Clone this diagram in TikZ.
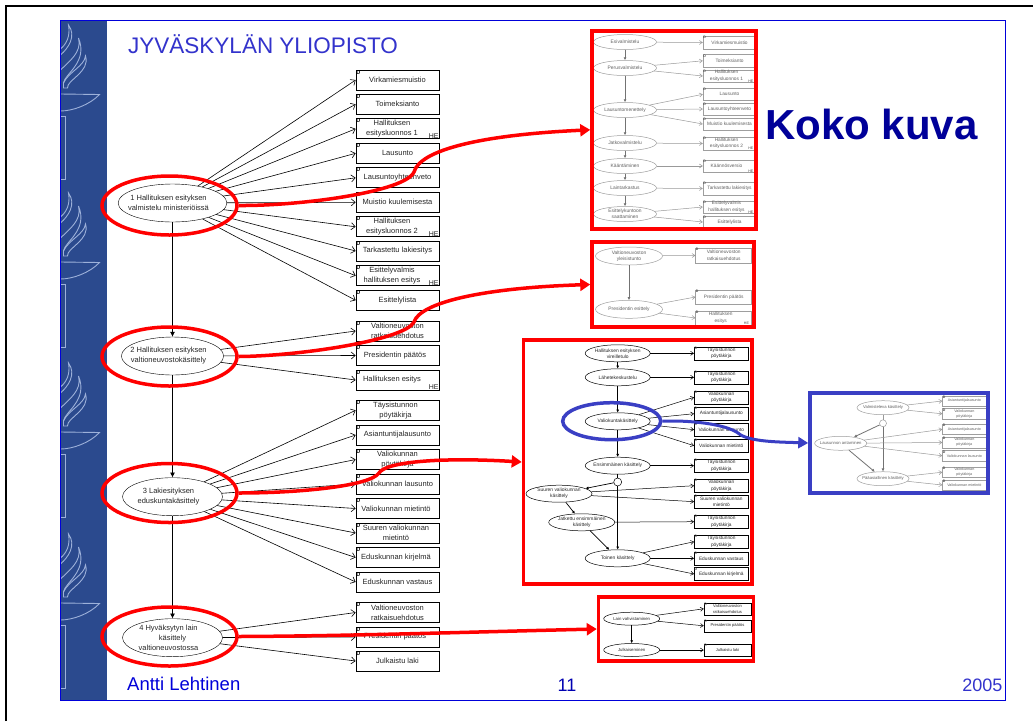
\documentclass[tikz,border=0pt]{standalone}
\usepackage{fontspec}
\setmainfont{Liberation Sans}
\usetikzlibrary{shapes.geometric, arrows.meta}
\definecolor{sidebar}{HTML}{2B4A8E}
\definecolor{emblem}{HTML}{9DB1DA}
\definecolor{titleblue}{HTML}{3333CC}
\definecolor{deepblue}{HTML}{000099}
\definecolor{ringblue}{HTML}{3A3FC4}
\newcommand{\hx}[1][11pt]{\hspace*{#1}}
\begin{document}
\begin{tikzpicture}[%
    x = 1pt, y = -1pt,
    >={Straight Barb[length=4pt, width=7pt]},
    case/.style = {ellipse, draw, fill = white, minimum width = 100pt, minimum height = 38pt, inner sep = -6pt, align = center, font = \fontsize{7.5}{10}\selectfont, text = black!85},
    docbase/.style = {rectangle, draw, fill = white, inner sep = 0pt, align = center, text = black!85},
    doc/.style = {docbase, minimum width = 83pt, minimum height = 20pt, font = \fontsize{7.5}{10}\selectfont, line width = 0.7pt, label = {[dmark]north west:D}},
    dmark/.style = {anchor = north west, inner sep = 0.5pt, font = \bfseries\fontsize{5.5}{6}\selectfont, text = black},
    hemark/.style = {anchor = south east, inner sep = 0.5pt, font = \fontsize{7}{7}\selectfont, text = black!85},
    tinyd/.style = {anchor = north west, inner sep = 0.3pt, font = \bfseries\fontsize{3.5}{4}\selectfont, text = black!70},
    tinyhemark/.style = {anchor = south east, inner sep = 0.3pt, xshift = -2.5pt, font = \fontsize{3.6}{4}\selectfont, text = black!70},
    he/.style = {label = {[hemark]south east:HE}},
    tinyhe/.style = {label = {[tinyhemark]south east:HE}},
    link/.style = {->, line width = 0.6pt},
    flow/.style = {-{Latex[length=5pt, width=5pt]}, line width = 0.7pt},
    tinycase/.style = {case, minimum width = #1, minimum height = 15pt, font = \fontsize{4.9}{6}\selectfont, line width = 0.5pt},
    tinydoc/.style = {docbase, minimum width = #1, minimum height = 12.5pt, font = \fontsize{4.8}{6.5}\selectfont, line width = 0.5pt, label = {[tinyd]north west:D}},
    faded/.style = {draw = black!38, text = black!62},
    fadelink/.style = {->, >={Straight Barb[length=3pt, width=4pt]}, line width = 0.5pt, draw = black!40},
    fadeflow/.style = {-{Latex[length=3pt, width=3pt]}, line width = 0.8pt, draw = black!55},
    tinylink/.style = {->, >={Straight Barb[length=3pt, width=4pt]}, line width = 0.5pt},
    tinyflow/.style = {-{Latex[length=3pt, width=3pt]}, line width = 0.7pt},
    redring/.style = {ellipse, draw = red, line width = 3.5pt, inner sep = 0pt},
    redframe/.style = {rectangle, draw = red, line width = 3.5pt, inner sep = 0pt},
    redarrow/.style = {-{Triangle[length=10pt, width=12pt]}, draw = red, line width = 3.5pt},
    bluearrow/.style = {-{Triangle[length=10pt, width=11pt]}, draw = ringblue, line width = 3pt},
    emblempic/.pic = {
        \draw[emblem, line width = 0.9pt] (0,0) -- (39,0.5) .. controls (29,11) and (12,17) .. (0,17);
        \draw[emblem, line width = 0.9pt] (0,22) -- (5,22) -- (5,85) -- (0,85);
        \draw[emblem, line width = 0.9pt] (0,-39) .. controls (8,-46) and (16,-58) .. (8,-69) .. controls (10,-58) and (6,-50) .. (0,-45);
        \draw[emblem, line width = 0.9pt] (3,-11) .. controls (4,-20) and (28,-32) .. (18,-56) .. controls (22,-42) and (8,-32) .. (0,-24);
        \draw[emblem, line width = 0.9pt] (3,-6) -- (7,-6) .. controls (6,-14) and (30,-22) .. (25,-38) .. controls (24,-28) and (8,-22) .. (3,-11) -- cycle;
    }]

    \useasboundingbox (0,0) rectangle (1033,721);
    \fill[white] (0,0) rectangle (1033,721);
    \draw[black, line width = 2pt] (6,721) -- (6,6) -- (1033,6);
    \fill[sidebar] (60.5,20.5) rectangle (107,700.5);
    \pic at (60.5,94) {emblempic};
    \pic at (60.5,262) {emblempic};
    \pic at (60.5,432) {emblempic};
    \pic at (60.5,603) {emblempic};
    \draw[blue!85!black, line width = 0.9pt] (60.5,20.5) rectangle (1005,700.5);

    \node[anchor = base west, inner sep = 0pt, text = titleblue, font = \fontsize{22.5}{24}\selectfont] (title) at (128,53) {JYVÄSKYLÄN YLIOPISTO};
    \node[anchor = base west, inner sep = 0pt, text = blue!85!black, font = \fontsize{18.5}{20}\selectfont] (author) at (127,690.5) {Antti Lehtinen};
    \node[anchor = base, inner sep = 0pt, text = blue!70!black, font = \fontsize{18}{20}\selectfont] (page) at (567,691) {11};
    \node[anchor = base east, inner sep = 0pt, text = titleblue, font = \fontsize{18}{20}\selectfont] (year) at (1002.5,691.5) {2005};
    \node[anchor = base west, inner sep = 0pt, text = deepblue, font = \bfseries\fontsize{42}{44}\selectfont] (koko) at (765,139) {Koko kuva};

    \node[case] (e1) at (172.5,203) {1 Hallituksen esityksen\hx[8pt]\\valmistelu ministeriöissä\hx[8pt]};
    \node[case] (e2) at (172.5,356) {2 Hallituksen esityksen\hx[8pt]\\valtioneuvostokäsittely\hx[8pt]};
    \node[case] (e3) at (172.5,496.7) {3 Lakiesityksen\hx[8pt]\\eduskuntakäsittely\hx[8pt]};
    \node[case] (e4) at (172.5,637.7) {4 Hyväksytyn lain\hx[8pt]\\käsittely\hx[8pt]\\valtioneuvostossa\hx[8pt]};

    \node[doc] (virka) at (397.5,80) {Virkamiesmuistio};
    \node[doc] (toimek) at (397.5,104.3) {Toimeksianto};
    \node[doc, he] (luon1) at (397.5,128.8) {Hallituksen\hx\\esitysluonnos 1\hx};
    \node[doc] (laus) at (397.5,153.3) {Lausunto};
    \node[doc] (yhteen) at (397.5,177.8) {Lausuntoyhteenveto};
    \node[doc] (muistio) at (397.5,202.3) {Muistio kuulemisesta};
    \node[doc, he] (luon2) at (397.5,226.8) {Hallituksen\hx\\esitysluonnos 2\hx};
    \node[doc] (tark) at (397.5,251) {Tarkastettu lakiesitys};
    \node[doc, he] (valmis) at (397.5,275.7) {Esittelyvalmis\hx\\hallituksen esitys\hx};
    \node[doc] (lista) at (397.5,300.3) {Esittelylista};
    \node[doc] (ratk) at (397.5,331) {Valtioneuvoston\\ratkaisuehdotus};
    \node[doc] (pres) at (397.5,355.5) {Presidentin päätös\hx[5pt]};
    \node[doc, he] (esitys) at (397.5,380) {Hallituksen esitys\hx};
    \node[doc] (poyta) at (397.5,410.3) {Täysistunnon\hx[4pt]\\pöytäkirja\hx[4pt]};
    \node[doc] (asian) at (397.5,435) {Asiantuntijalausunto};
    \node[doc] (vpoyta) at (397.5,459.5) {Valiokunnan\\pöytäkirja};
    \node[doc] (vlaus) at (397.5,484) {Valiokunnan lausunto};
    \node[doc] (vmiet) at (397.5,508.5) {Valiokunnan mietintö\hx[3pt]};
    \node[doc] (smiet) at (397.5,533) {Suuren valiokunnan\hx[3pt]\\mietintö\hx[3pt]};
    \node[doc] (kirj) at (397.5,557.5) {Eduskunnan kirjelmä\hx[3pt]};
    \node[doc] (vast) at (397.5,582) {Eduskunnan vastaus};
    \node[doc] (ratk2) at (397.5,612.5) {Valtioneuvoston\\ratkaisuehdotus};
    \node[doc] (pres2) at (397.5,637) {Presidentin päätös\hx[5pt]};
    \node[doc] (julk) at (397.5,661) {Julkaistu laki};

    \draw[flow] (e1) -- (e2);
    \draw[flow] (e2) -- (e3);
    \draw[flow] (e3) -- (e4);
    \draw[link] (e1) -- (virka.west);
    \draw[link] (e1) -- (toimek.west);
    \draw[link] (e1) -- (luon1.west);
    \draw[link] (e1) -- (laus.west);
    \draw[link] (e1) -- (yhteen.west);
    \draw[link] (e1) -- (muistio.west);
    \draw[link] (e1) -- (luon2.west);
    \draw[link] (e1) -- (tark.west);
    \draw[link] (e1) -- (valmis.west);
    \draw[link] (e1) -- (lista.west);
    \draw[link] (e2) -- (ratk.west);
    \draw[link] (e2) -- (pres.west);
    \draw[link] (e2) -- (esitys.west);
    \draw[link] (e3) -- (poyta.west);
    \draw[link] (e3) -- (asian.west);
    \draw[link] (e3) -- (vpoyta.west);
    \draw[link] (e3) -- (vlaus.west);
    \draw[link] (e3) -- (vmiet.west);
    \draw[link] (e3) -- (smiet.west);
    \draw[link] (e3) -- (kirj.west);
    \draw[link] (e3) -- (vast.west);
    \draw[link] (e4) -- (ratk2.west);
    \draw[link] (e4) -- (pres2.west);
    \draw[link] (e4) -- (julk.west);

    \node[tinycase = 63pt, faded] (esiv) at (625,42) {Esivalmistelu};
    \node[tinycase = 63pt, faded] (perus) at (625,68) {Perusvalmistelu};
    \node[tinycase = 63pt, faded] (lausm) at (625,110) {Lausuntomenettely};
    \node[tinycase = 63pt, faded] (jatko) at (625,143) {Jatkovalmistelu};
    \node[tinycase = 63pt, faded] (kaan) at (625,166) {Kääntäminen};
    \node[tinycase = 63pt, faded] (lain) at (625,188) {Laintarkastus};
    \node[tinycase = 63pt, faded] (kunto) at (625,214) {Esittelykuntoon\\saattaminen};
    \node[tinydoc = 53pt, faded] (a1) at (729.5,42.5) {Virkamiesmuistio};
    \node[tinydoc = 53pt, faded] (a2) at (729.5,60.8) {Toimeksianto};
    \node[tinydoc = 53pt, faded, tinyhe] (a3) at (729.5,76) {Hallituksen\hx[6pt]\\esitysluonnos 1\hx[6pt]};
    \node[tinydoc = 53pt, faded] (a4) at (729.5,94.3) {Lausunto};
    \node[tinydoc = 53pt, faded] (a5) at (729.5,109) {Lausuntoyhteenveto};
    \node[tinydoc = 53pt, faded] (a6) at (729.5,124) {Muistio kuulemisesta};
    \node[tinydoc = 53pt, faded, tinyhe] (a7) at (729.5,143.5) {Hallituksen\hx[6pt]\\esitysluonnos 2\hx[6pt]};
    \node[tinydoc = 53pt, faded, tinyhe] (a8) at (729.5,166) {Käännösversio\hx[6pt]};
    \node[tinydoc = 53pt, faded] (a9) at (729.5,188.5) {Tarkastettu lakiesitys};
    \node[tinydoc = 53pt, faded, tinyhe] (a10) at (729.5,207) {Esittelyvalmis\hx[6pt]\\hallituksen esitys\hx[6pt]};
    \node[tinydoc = 53pt, faded] (a11) at (729.5,222) {Esittelylista};
    \draw[fadeflow] (esiv) -- (perus);
    \draw[fadeflow] (perus) -- (lausm);
    \draw[fadeflow] (lausm) -- (jatko);
    \draw[fadeflow] (jatko) -- (kaan);
    \draw[fadeflow] (kaan) -- (lain);
    \draw[fadeflow] (lain) -- (kunto);
    \draw[fadelink] (esiv) -- (a1.west);
    \draw[fadelink] (perus) -- (a2.west);
    \draw[fadelink] (perus) -- (a3.west);
    \draw[fadelink] (lausm) -- (a4.west);
    \draw[fadelink] (lausm) -- (a5.west);
    \draw[fadelink] (lausm) -- (a6.west);
    \draw[fadelink] (jatko) -- (a7.west);
    \draw[fadelink] (kaan) -- (a8.west);
    \draw[fadelink] (lain) -- (a9.west);
    \draw[fadelink] (kunto) -- (a10.west);
    \draw[fadelink] (kunto) -- (a11.west);

    \node[tinycase = 67pt, faded, minimum height = 18pt] (yleis) at (629,256) {Valtioneuvoston\\yleisistunto};
    \node[tinycase = 67pt, faded, minimum height = 18pt] (esitt) at (629,309.3) {Presidentin esittely};
    \node[tinydoc = 56pt, faded, minimum height = 14.5pt] (c1) at (723.7,255.5) {Valtioneuvoston\\ratkaisuehdotus};
    \node[tinydoc = 56pt, faded, minimum height = 14pt] (c2) at (723.7,297) {Presidentin päätös};
    \node[tinydoc = 56pt, faded, minimum height = 14pt, tinyhe] (c3) at (723.7,318) {Hallituksen\hx[6pt]\\esitys\hx[6pt]};
    \draw[fadeflow] (yleis) -- (esitt);
    \draw[fadelink] (yleis) -- (c1.west);
    \draw[fadelink] (esitt) -- (c2.west);
    \draw[fadelink] (esitt) -- (c3.west);

    \node[tinycase = 65pt, minimum height = 17pt] (vire) at (617.7,353.3) {Hallituksen esityksen\\vireilletulo};
    \node[tinycase = 65pt, minimum height = 17pt] (lahe) at (617.7,377.3) {Lähetekeskustelu};
    \node[tinycase = 65pt, minimum height = 17pt] (valk) at (617.7,421.3) {Valiokuntakäsittely};
    \node[tinycase = 65pt, minimum height = 17pt] (ensi) at (617.7,465.7) {Ensimmäinen käsittely};
    \node[circle, draw, fill = white, minimum size = 8pt, inner sep = 0pt, line width = 0.5pt] (haara) at (617.7,482) {};
    \node[tinycase = 66pt, minimum height = 17pt] (suur) at (559,493.7) {Suuren valiokunnan\\käsittely};
    \node[tinycase = 66pt, minimum height = 17pt] (jatk) at (581.7,522.3) {Jatkettu ensimmäinen\\käsittely};
    \node[tinycase = 65pt, minimum height = 17pt] (toin) at (617.7,558.3) {Toinen käsittely};
    \node[tinydoc = 54pt, minimum height = 13pt] (d1) at (721.3,353.3) {Täysistunnon\\pöytäkirja};
    \node[tinydoc = 54pt, minimum height = 13pt] (d2) at (721.3,377.3) {Täysistunnon\\pöytäkirja};
    \node[tinydoc = 54pt, minimum height = 13pt] (d3) at (721.3,397.3) {Valiokunnan\\pöytäkirja};
    \node[tinydoc = 54pt, minimum height = 13pt] (d4) at (721.3,413.7) {Asiantuntijalausunto};
    \node[tinydoc = 54pt, minimum height = 13pt] (d5) at (721.3,429.7) {Valiokunnan lausunto};
    \node[tinydoc = 54pt, minimum height = 13pt] (d6) at (721.3,445.7) {Valiokunnan mietintö};
    \node[tinydoc = 54pt, minimum height = 13pt] (d7) at (721.3,465.7) {Täysistunnon\\pöytäkirja};
    \node[tinydoc = 54pt, minimum height = 13pt] (d8) at (721.3,485.7) {Valiokunnan\\pöytäkirja};
    \node[tinydoc = 54pt, minimum height = 13pt] (d9) at (721.3,501.7) {Suuren valiokunnan\\mietintö};
    \node[tinydoc = 54pt, minimum height = 13pt] (d10) at (721.3,521.7) {Täysistunnon\\pöytäkirja};
    \node[tinydoc = 54pt, minimum height = 13pt] (d11) at (721.3,541.7) {Täysistunnon\\pöytäkirja};
    \node[tinydoc = 54pt, minimum height = 13pt] (d12) at (721.3,558.3) {Eduskunnan vastaus};
    \node[tinydoc = 54pt, minimum height = 13pt] (d13) at (721.3,574) {Eduskunnan kirjelmä};
    \draw[tinyflow] (vire) -- (lahe);
    \draw[tinyflow] (lahe) -- (valk);
    \draw[tinyflow] (valk) -- (ensi);
    \draw[line width = 0.7pt] (ensi) -- (haara);
    \draw[tinyflow] (haara) -- (suur);
    \draw[tinyflow] (haara) -- (toin);
    \draw[tinyflow] (suur) -- (jatk);
    \draw[tinyflow] (jatk) -- (toin);
    \draw[tinylink] (vire) -- (d1.west);
    \draw[tinylink] (lahe) -- (d2.west);
    \draw[tinylink] (valk) -- (d3.west);
    \draw[tinylink] (valk) -- (d4.west);
    \draw[tinylink] (valk) -- (d5.west);
    \draw[tinylink] (valk) -- (d6.west);
    \draw[tinylink] (ensi) -- (d7.west);
    \draw[tinylink] (suur) -- (d8.west);
    \draw[tinylink] (suur) -- (d9.west);
    \draw[tinylink] (jatk) -- (d10.west);
    \draw[tinylink] (toin) -- (d11.west);
    \draw[tinylink] (toin) -- (d12.west);
    \draw[tinylink] (toin) -- (d13.west);

    \node[tinycase = 56pt, minimum height = 13pt, font = \fontsize{4.3}{5.5}\selectfont] (vahv) at (631.7,618.7) {Lain vahvistaminen};
    \node[tinycase = 56pt, minimum height = 13pt, font = \fontsize{4.3}{5.5}\selectfont] (julks) at (631.7,650) {Julkaiseminen};
    \node[tinydoc = 47pt, minimum height = 12pt, font = \fontsize{4.1}{5.5}\selectfont] (f1) at (727.5,608.8) {Valtioneuvoston\\ratkaisuehdotus};
    \node[tinydoc = 47pt, minimum height = 12pt, font = \fontsize{4.1}{5.5}\selectfont] (f2) at (727.5,625.8) {Presidentin päätös};
    \node[tinydoc = 47pt, minimum height = 12pt, font = \fontsize{4.1}{5.5}\selectfont] (f3) at (727.5,650) {Julkaistu laki};
    \draw[tinyflow] (vahv) -- (julks);
    \draw[tinylink] (vahv) -- (f1.west);
    \draw[tinylink] (vahv) -- (f2.west);
    \draw[tinylink] (julks) -- (f3.west);

    \node[tinycase = 52pt, faded, minimum height = 14pt, font = \fontsize{4.2}{5}\selectfont] (valmk) at (883,407.7) {Valmisteleva käsittely};
    \node[circle, draw = black!38, fill = white, minimum size = 7pt, inner sep = 0pt, line width = 0.5pt] (haara2) at (883,423.3) {};
    \node[tinycase = 52pt, faded, minimum height = 14pt, font = \fontsize{4.2}{5}\selectfont] (anto) at (840.7,443.3) {Lausunnon antaminen};
    \node[tinycase = 52pt, faded, minimum height = 14pt, font = \fontsize{4.2}{5}\selectfont] (paa) at (883,478.7) {Pääasiallinen käsittely};
    \node[tinydoc = 43.5pt, faded, minimum height = 10.5pt, font = \fontsize{3.7}{5}\selectfont] (g1) at (964.3,401) {Asiantuntijalausunto};
    \node[tinydoc = 43.5pt, faded, minimum height = 10.5pt, font = \fontsize{3.7}{5}\selectfont] (g2) at (964.3,413.8) {Valiokunnan\\pöytäkirja};
    \node[tinydoc = 43.5pt, faded, minimum height = 10.5pt, font = \fontsize{3.7}{5}\selectfont] (g3) at (964.3,429.3) {Asiantuntijalausunto};
    \node[tinydoc = 43.5pt, faded, minimum height = 10.5pt, font = \fontsize{3.7}{5}\selectfont] (g4) at (964.3,442.5) {Valiokunnan\\pöytäkirja};
    \node[tinydoc = 43.5pt, faded, minimum height = 10.5pt, font = \fontsize{3.7}{5}\selectfont] (g5) at (964.3,455.8) {Valiokunnan lausunto};
    \node[tinydoc = 43.5pt, faded, minimum height = 10.5pt, font = \fontsize{3.7}{5}\selectfont] (g6) at (964.3,472.2) {Valiokunnan\\pöytäkirja};
    \node[tinydoc = 43.5pt, faded, minimum height = 10.5pt, font = \fontsize{3.7}{5}\selectfont] (g7) at (964.3,485) {Valiokunnan mietintö};
    \draw[line width = 0.5pt, draw = black!40] (valmk) -- (haara2);
    \draw[fadeflow] (haara2) -- (anto);
    \draw[fadeflow] (haara2) -- (paa);
    \draw[fadeflow] (anto) -- (paa);
    \draw[fadelink] (valmk) -- (g1.west);
    \draw[fadelink] (valmk) -- (g2.west);
    \draw[fadelink] (anto) -- (g3.west);
    \draw[fadelink] (anto) -- (g4.west);
    \draw[fadelink] (anto) -- (g5.west);
    \draw[fadelink] (paa) -- (g6.west);
    \draw[fadelink] (paa) -- (g7.west);

    \node[redframe, minimum width = 164pt, minimum height = 198pt] (fr1) at (674,129.8) {};
    \node[redframe, minimum width = 162pt, minimum height = 85pt] (fr2) at (673,284.5) {};
    \node[redframe, minimum width = 228.5pt, minimum height = 244pt] (fr3) at (637.7,462) {};
    \node[redframe, minimum width = 155pt, minimum height = 64pt] (fr4) at (676,629) {};
    \node[rectangle, draw = ringblue, line width = 3.5pt, minimum width = 178pt, minimum height = 100pt] (fr5) at (899,443) {};
    \node[redring, minimum width = 135pt, minimum height = 59pt] (r1) at (169.5,205.5) {};
    \node[redring, minimum width = 135pt, minimum height = 59pt] (r2) at (169.5,356.5) {};
    \node[redring, minimum width = 135pt, minimum height = 59pt] (r3) at (169.5,493) {};
    \node[redring, minimum width = 135pt, minimum height = 59pt] (r4) at (169.5,636.5) {};
    \node[ellipse, draw = ringblue, line width = 3.5pt, inner sep = 0pt, minimum width = 98pt, minimum height = 37pt] (r5) at (611.7,421.2) {};

    \draw[redarrow] (r1.east) .. controls (300,206) and (405,192) .. (414,172) .. controls (420,150) and (480,135) .. (fr1.west);
    \draw[redarrow] (r2.east) .. controls (300,356) and (405,340) .. (414,322) .. controls (420,303) and (480,288) .. (fr2.west);
    \draw[redarrow] (r3.east) .. controls (300,493) and (370,486) .. (379,473) .. controls (385,462) and (440,457) .. (fr3.west);
    \draw[redarrow] (r4.east) .. controls (350,636) and (470,632) .. (fr4.west);
    \draw[bluearrow] (r5.east) .. controls (690,420) and (725,424) .. (738,433) .. controls (748,442) and (780,442) .. (fr5.west);
\end{tikzpicture}
\end{document}
